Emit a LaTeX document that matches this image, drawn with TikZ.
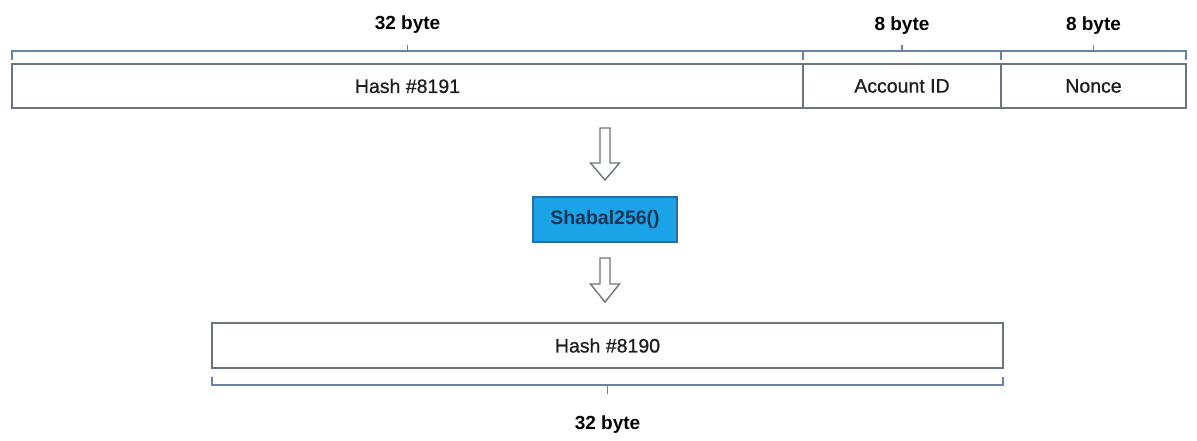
\documentclass[tikz,border=0pt]{standalone}
\usepackage{fontspec}
\setmainfont{Liberation Sans}
\newfontfamily\fieldfont[FakeBold=0.8]{Liberation Sans}
\usetikzlibrary{calc}
\definecolor{boxline}{HTML}{6E747C}
\definecolor{braceline}{HTML}{6684A8}
\definecolor{funcfill}{HTML}{1AA3E6}
\definecolor{funcline}{HTML}{2C6C9E}
\definecolor{functext}{HTML}{1B3557}
\definecolor{labeltext}{HTML}{1E1E1E}
\tikzset{
  field/.style={draw=boxline, line width=1.8pt, fill=white, outer sep=0pt, inner sep=0pt,
    anchor=north west, font=\fieldfont\fontsize{19.5}{22}\selectfont, text=labeltext},
  func/.style={draw=funcline, line width=1.2pt, fill=funcfill, outer sep=0pt, inner sep=0pt,
    anchor=north west, font=\bfseries\fontsize{19.5}{22}\selectfont, text=functext},
  bracket/.style={draw=braceline, line width=1.6pt},
  sizelabel/.style={font=\bfseries\fontsize{19}{21}\selectfont, text=black},
  hollow/.style={draw=boxline, line width=1.4pt, fill=white, line join=miter},
}
\begin{document}
\begin{tikzpicture}[x=1pt, y=-1pt]
  \useasboundingbox (0,0) rectangle (1197,440);

  % input record: hash | account id | nonce
  \node[field, minimum width=791pt, minimum height=44pt] (hash) at (12,64) {Hash \#8191};
  \node[field, minimum width=198pt, minimum height=44pt] (acct) at (803,64) {Account ID};
  \node[field, minimum width=185pt, minimum height=44pt] (nonce) at (1001,64) {Nonce};

  % size brackets above the record
  \foreach \seg in {hash, acct, nonce} {
    \draw[bracket] ($(\seg.north west)+(0,-4)$) -- ($(\seg.north west)+(0,-13)$)
      -- ($(\seg.north east)+(0,-13)$) -- ($(\seg.north east)+(0,-4)$);
    \draw[bracket] ($(\seg.north)+(0,-13)$) -- ($(\seg.north)+(0,-19)$);
  }
  \node[sizelabel] (lhash) at ($(hash.north)+(0,-39)$) {32 byte};
  \node[sizelabel] (lacct) at ($(acct.north)+(0,-38)$) {8 byte};
  \node[sizelabel] (lnonce) at ($(nonce.north)+(0,-38)$) {8 byte};

  % hash function
  \node[func, minimum width=144pt, minimum height=45pt] (shabal) at (533,197) {Shabal256()};

  % output hash
  \node[field, minimum width=791pt, minimum height=45pt] (out) at (212,323) {Hash \#8190};

  % size bracket below the output
  \draw[bracket] ($(out.south west)+(0,9)$) -- ($(out.south west)+(0,17)$)
    -- ($(out.south east)+(0,17)$) -- ($(out.south east)+(0,9)$);
  \draw[bracket] ($(out.south)+(0,17)$) -- ($(out.south)+(0,26)$);
  \node[sizelabel] (lout) at ($(out.south)+(0,57)$) {32 byte};

  % hollow flow arrows
  \coordinate (a1) at ($(shabal.north)+(0,-69)$);
  \coordinate (a2) at ($(shabal.south)+(0,16)$);
  \draw[hollow] (a1) ++(-5,0) -- ++(0,35) -- ++(-9.5,0) -- ++(14.5,17)
    -- ++(14.5,-17) -- ++(-9.5,0) -- ++(0,-35) -- cycle;
  \draw[hollow] (a2) ++(-5,0) -- ++(0,26) -- ++(-9.5,0) -- ++(14.5,18)
    -- ++(14.5,-18) -- ++(-9.5,0) -- ++(0,-26) -- cycle;
\end{tikzpicture}
\end{document}
